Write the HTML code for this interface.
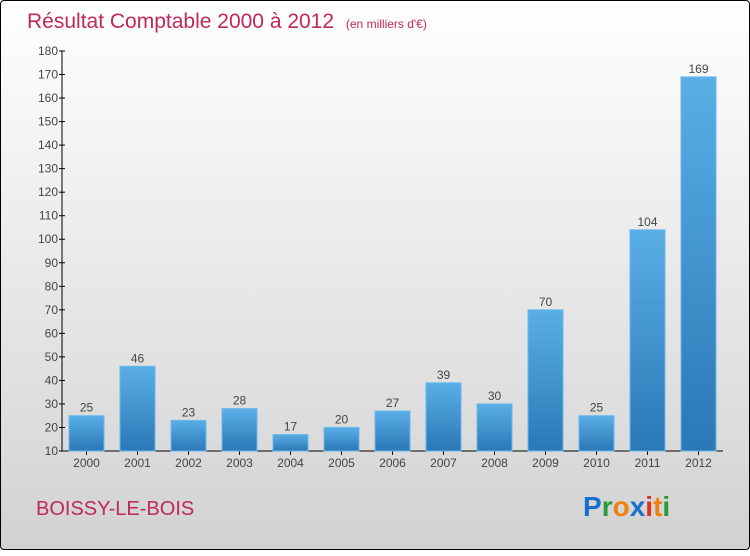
<!DOCTYPE html>
<html><head><meta charset="utf-8"><style>
body{margin:0;width:750px;height:550px;overflow:hidden;font-family:"Liberation Sans",sans-serif}
#wrap{position:absolute;left:0;top:0;width:748px;height:548px;border:1px solid #000;border-radius:4px;background:linear-gradient(#ffffff,#d2d2d2)}
</style></head><body>
<div id="wrap">
<svg width="750" height="550">
<defs><linearGradient id="bg" x1="0" y1="0" x2="0" y2="1"><stop offset="0" stop-color="#5aaee6"/><stop offset="1" stop-color="#2a78b6"/></linearGradient></defs>
<text x="26" y="27" font-size="21" fill="#c0285a">Résultat Comptable 2000 à 2012 <tspan font-size="12" dx="6">(en milliers d'€)</tspan></text>
<g id="axes"></g><g id="bars"></g>
<text x="35" y="514" font-size="20" fill="#c0285a">BOISSY-LE-BOIS</text>
<text x="582" y="515" font-size="28" font-weight="bold"><tspan fill="#1a6fcc">P</tspan><tspan fill="#2a9a3a">r</tspan><tspan fill="#f08010">o</tspan><tspan fill="#1a6fcc">x</tspan><tspan fill="#e03020">i</tspan><tspan fill="#f08010">t</tspan><tspan fill="#2a9a3a">i</tspan></text>
</svg></div>
<script>
const years=["2000","2001","2002","2003","2004","2005","2006","2007","2008","2009","2010","2011","2012"];
const values=[25,46,23,28,17,20,27,39,30,70,25,104,169];
const yTicks=[10,20,30,40,50,60,70,80,90,100,110,120,130,140,150,160,170,180];
const NS="http://www.w3.org/2000/svg";
function y(v){return 450-(v-10)*400/170;}
function x(i){return 85.5+i*51;}
function mk(t,a,p){const e=document.createElementNS(NS,t);for(const k in a)e.setAttribute(k,a[k]);p.appendChild(e);return e;}
const ax=document.getElementById('axes'),bs=document.getElementById('bars');
const yl=mk('line',{x1:61,y1:50,x2:61,y2:450,stroke:'#000'},ax);


const xl=mk('line',{x1:61,y1:450,x2:722,y2:450,stroke:'#000'},ax);


yTicks.forEach(v=>{
 mk('line',{x1:58,y1:y(v),x2:64,y2:y(v),stroke:'#000'},ax);
 const t=mk('text',{x:57,y:y(v)+4,'font-size':12,'text-anchor':'end',fill:'#444'},ax);t.textContent=v;
 
 
});
years.forEach((yr,i)=>{
 const v=values[i];
 mk('line',{x1:x(i),y1:450,x2:x(i),y2:454,stroke:'#000'},ax);
 const t=mk('text',{x:x(i),y:466,'font-size':12,'text-anchor':'middle',fill:'#444'},ax);t.textContent=yr;
 
 
 const r=mk('rect',{x:x(i)-17.5,y:y(v),width:35,height:450-y(v),fill:'url(#bg)',stroke:'#6ab8ee','stroke-width':1},bs);
 
 
 const l=mk('text',{x:x(i),y:y(v)-4,'font-size':12,'text-anchor':'middle',fill:'#444'},bs);l.textContent=v;
 
 
});
</script>
</body></html>
